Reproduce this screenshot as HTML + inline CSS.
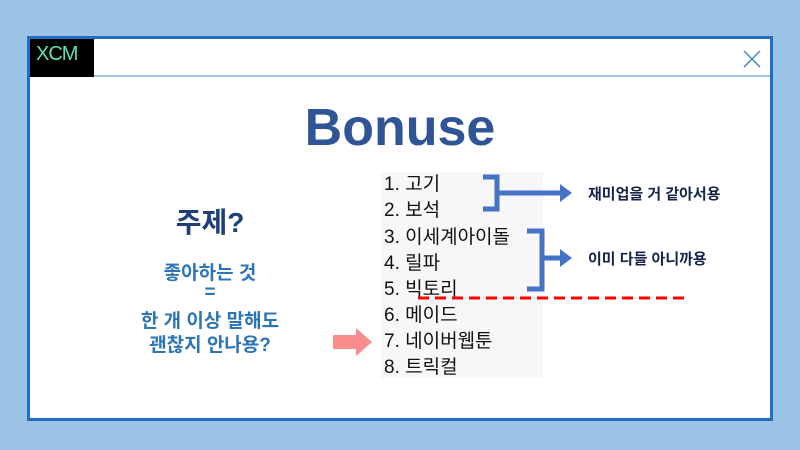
<!DOCTYPE html>
<html><head><meta charset="utf-8"><style>
*{margin:0;padding:0;box-sizing:border-box}
body{width:800px;height:450px;background:#9dc3e6;position:relative;overflow:hidden;font-family:"Liberation Sans","Noto Sans CJK KR",sans-serif}
.win{position:absolute;left:27px;top:36px;width:746px;height:385px;background:#fff;border:3px solid #1f6fc5}
.hdr{position:absolute;left:0;top:0;width:740px;height:38px;border-bottom:2px solid #9dc3e6}
.logo{position:absolute;left:0;top:0;width:64px;height:38px;background:#000;color:#5fe0b8;font-size:20px;line-height:30px;padding-left:6px;letter-spacing:-1px}
.t{position:absolute;white-space:nowrap}
.list{position:absolute;left:381px;top:172px;width:162px;height:206px;background:#f7f7f7}
.li{position:absolute;left:384px;font-size:19px;color:#111;line-height:26px}
.lab{font-size:15px;font-weight:bold;color:#14244a}
.l{font-weight:bold;color:#2e75b6;font-size:19px;text-align:center;width:220px;left:100px}
</style></head><body>
<div class="win">
 <div class="hdr"><div class="logo">XCM</div>
 <svg style="position:absolute;left:712px;top:10px" width="20" height="20"><path d="M2 2L18 18M18 2L2 18" stroke="#4a7fc0" stroke-width="1.5"/></svg></div>
</div>
<div class="t" style="left:0;width:800px;text-align:center;top:98px;font-size:52px;font-weight:bold;color:#2f5597">Bonuse</div>
<div class="t" style="left:100px;width:220px;text-align:center;top:201px;font-size:28px;font-weight:bold;color:#1f3f7a">주제?</div>
<div class="t l" style="top:258px">좋아하는 것</div>
<div class="t l" style="top:282px">=</div>
<div class="t l" style="top:306px">한 개 이상 말해도</div>
<div class="t l" style="top:330px">괜찮지 안나용?</div>
<div class="list"></div>
<div class="t li" style="top:172px">1. 고기</div>
<div class="t li" style="top:198px">2. 보석</div>
<div class="t li" style="top:225px">3. 이세계아이돌</div>
<div class="t li" style="top:251px">4. 릴파</div>
<div class="t li" style="top:277px">5. 빅토리</div>
<div class="t li" style="top:303px">6. 메이드</div>
<div class="t li" style="top:329px">7. 네이버웹툰</div>
<div class="t li" style="top:355px">8. 트릭컬</div>
<svg style="position:absolute;left:0;top:0" width="800" height="450">
 <path d="M483 177H497V209H483M497 193H562" stroke="#4472c4" stroke-width="5" fill="none"/>
 <path d="M560 184L572 193L560 202Z" fill="#4472c4"/>
 <path d="M527 231H542V289H527M542 258H562" stroke="#4472c4" stroke-width="5" fill="none"/>
 <path d="M560 249L572 258L560 267Z" fill="#4472c4"/>
 <path d="M418 298H690" stroke="#f00" stroke-width="3" stroke-dasharray="11 6"/>
 <path d="M333 335H356V328L372 342L356 356V349H333Z" fill="#fa8c8c"/>
</svg>
<div class="t lab" style="left:588px;top:183px">재미업을 거 같아서용</div>
<div class="t lab" style="left:588px;top:248px">이미 다들 아니까용</div>
</body></html>
